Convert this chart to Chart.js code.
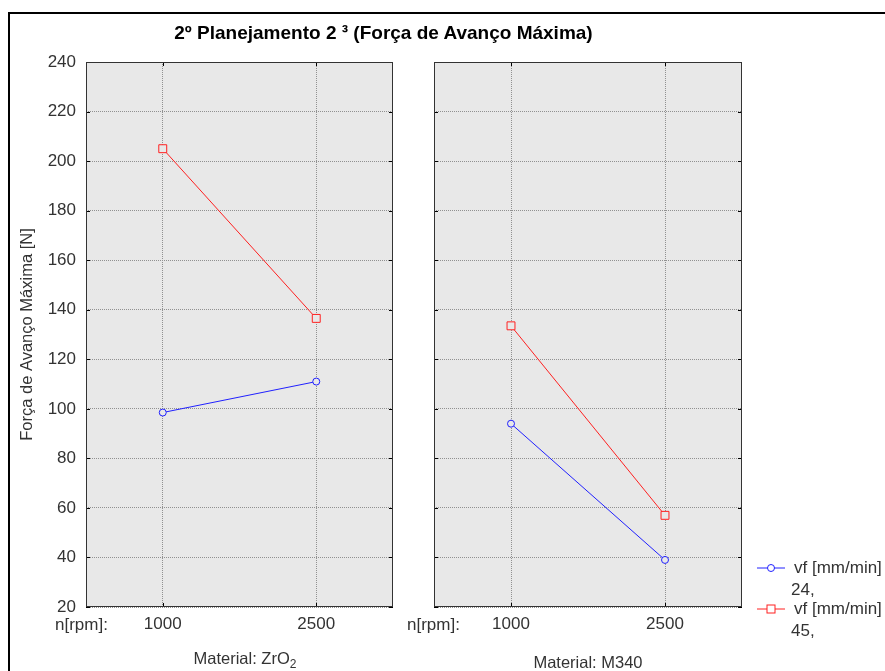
<!DOCTYPE html>
<html>
<head>
<meta charset="utf-8">
<script src="https://cdn.jsdelivr.net/npm/chart.js@4/dist/chart.umd.min.js"></script>
<style>
  html, body { margin: 0; padding: 0; width: 885px; height: 671px; overflow: hidden; background: #fff;
    font-family: "Liberation Sans", Arial, sans-serif; color: #333; }
  #frame { position: absolute; left: 8px; top: 12px; width: 900px; height: 700px;
    border-left: 2px solid #000; border-top: 2px solid #000; }
  canvas { position: absolute; left: 0; top: 0; }
  .txt { position: absolute; font-size: 17px; line-height: 22px; white-space: nowrap; }
  .mat { position: absolute; font-size: 16.5px; line-height: 22px; white-space: nowrap; text-align: center; width: 300px; }
  .mat sub { font-size: 12px; vertical-align: -4px; line-height: 0; }
  .mark { position: absolute; }
  #title { position: absolute; top: 22px; left: 0; width: 767px; text-align: center;
    font-weight: bold; font-size: 19px; color: #000; white-space: nowrap; }
</style>
</head>
<body>
<div id="frame"></div>
<canvas id="zro2Chart" width="885" height="671"></canvas>
<canvas id="m340Chart" width="885" height="671"></canvas>
<div id="title">2º Planejamento 2 ³ (Força de Avanço Máxima)</div>
<div class="txt" style="left:55px; top:614px;">n[rpm]:</div>
<div class="txt" style="left:407px; top:614px;">n[rpm]:</div>
<div class="mat" style="left:95px; top:647px;">Material: ZrO<sub>2</sub></div>
<div class="mat" style="left:438px; top:651px;">Material: M340</div>

<svg class="mark" style="left:755px; top:562px;" width="32" height="12">
  <line x1="2" y1="6" x2="30" y2="6" stroke="#2020ff" stroke-width="1"/>
  <circle cx="16" cy="6" r="3.5" fill="#fff" stroke="#2020ff" stroke-width="1"/>
</svg>
<div class="txt" style="left:794px; top:557px;">vf [mm/min]</div>
<div class="txt" style="left:791px; top:579px;">24,</div>
<svg class="mark" style="left:755px; top:603px;" width="32" height="12">
  <line x1="2" y1="6" x2="30" y2="6" stroke="#ff2020" stroke-width="1"/>
  <rect x="12" y="2" width="8" height="8" fill="#fff" stroke="#ff2020" stroke-width="1"/>
</svg>
<div class="txt" style="left:794px; top:598px;">vf [mm/min]</div>
<div class="txt" style="left:791px; top:620px;">45,</div>

<script>
// n[rpm] levels
const rpmLabels = ['1000', '2500'];
// Força de Avanço Máxima [N] for vf = 24 and vf = 45 mm/min
const zro2Vf24 = [98.5, 111];
const zro2Vf45 = [205, 136.5];
const m340Vf24 = [94, 39];
const m340Vf45 = [133.5, 57];
const yMin = 20, yMax = 240, yStep = 20;

const panelBg = '#e8e8e8';
const blue = '#2020ff';
const red = '#ff2020';

// gray panel background, dark frame and the small inner tick marks
const panelFrame = {
  id: 'panelFrame',
  beforeDraw(chart) {
    const a = chart.chartArea, ctx = chart.ctx;
    ctx.save();
    ctx.fillStyle = panelBg;
    ctx.fillRect(a.left, a.top, a.right - a.left, a.bottom - a.top);
    ctx.restore();
  },
  beforeDatasetsDraw(chart) {
    const a = chart.chartArea, ctx = chart.ctx;
    const x = chart.scales.x, y = chart.scales.y;
    ctx.save();
    ctx.strokeStyle = '#000';
    ctx.lineWidth = 1;
    ctx.beginPath();
    y.ticks.forEach(t => {
      const py = Math.round(y.getPixelForValue(t.value)) + 0.5;
      ctx.moveTo(a.left, py); ctx.lineTo(a.left + 4, py);
      ctx.moveTo(a.right - 4, py); ctx.lineTo(a.right, py);
    });
    x.ticks.forEach((t, i) => {
      const px = Math.round(x.getPixelForTick(i)) + 0.5;
      ctx.moveTo(px, a.top); ctx.lineTo(px, a.top + 4);
      ctx.moveTo(px, a.bottom - 4); ctx.lineTo(px, a.bottom);
    });
    ctx.stroke();
    ctx.strokeStyle = '#333';
    ctx.strokeRect(Math.round(a.left) + 0.5, Math.round(a.top) + 0.5,
      Math.round(a.right - a.left) - 1, Math.round(a.bottom - a.top) - 1);
    ctx.restore();
  }
};

function makeDatasets(vf24, vf45) {
  return [
    {
      label: 'vf [mm/min] 24,',
      data: vf24,
      borderColor: blue,
      backgroundColor: panelBg,
      borderWidth: 1,
      pointStyle: 'circle',
      pointRadius: 3.5,
      pointBorderWidth: 1,
      tension: 0
    },
    {
      label: 'vf [mm/min] 45,',
      data: vf45,
      borderColor: red,
      backgroundColor: panelBg,
      borderWidth: 1,
      pointStyle: 'rect',
      pointRadius: 5.6,
      pointBorderWidth: 1,
      tension: 0
    }
  ];
}

function makeConfig(vf24, vf45, first) {
  const tickFont = { family: '"Liberation Sans", Arial, sans-serif', size: 17 };
  return {
    type: 'line',
    data: { labels: rpmLabels, datasets: makeDatasets(vf24, vf45) },
    plugins: [panelFrame],
    options: {
      responsive: false,
      animation: false,
      events: [],
      layout: {
        padding: first ? { top: 62, right: 492, bottom: 0, left: 0 }
                       : { top: 62, right: 143, bottom: 0, left: 434 }
      },
      plugins: { legend: { display: false }, tooltip: { enabled: false } },
      scales: {
        x: {
          type: 'category',
          offset: true,
          grid: { color: '#909090', lineWidth: 1, drawTicks: false, offset: false },
          border: { display: false, dash: [1, 1] },
          ticks: { color: '#333', font: tickFont, padding: 7 },
          afterFit: s => { s.height = 64; }
        },
        y: {
          min: yMin,
          max: yMax,
          grid: { color: '#909090', lineWidth: 1, drawTicks: false },
          border: { display: false, dash: [1, 1] },
          ticks: { display: first, stepSize: yStep, color: '#333', font: tickFont, padding: 10 },
          title: {
            display: first, text: 'Força de Avanço Máxima [N]', color: '#333',
            font: { family: '"Liberation Sans", Arial, sans-serif', size: 16.5 },
            padding: { top: 18, bottom: 0 }
          },
          afterFit: s => { s.width = first ? 86 : 0; }
        }
      }
    }
  };
}

new Chart(document.getElementById('zro2Chart'), makeConfig(zro2Vf24, zro2Vf45, true));
new Chart(document.getElementById('m340Chart'), makeConfig(m340Vf24, m340Vf45, false));
</script>
</body>
</html>
